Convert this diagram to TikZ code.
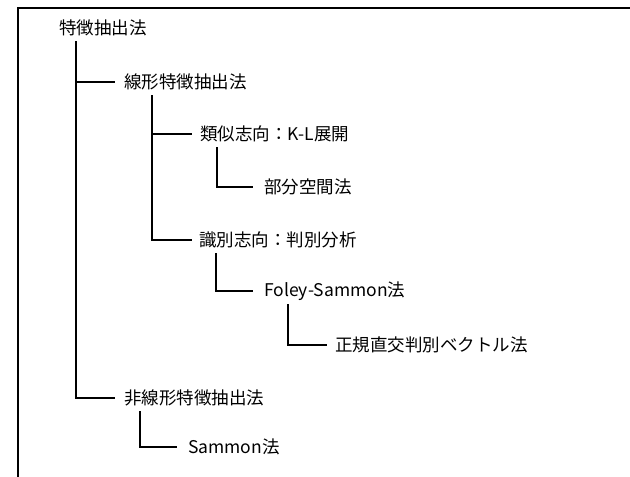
\documentclass[tikz,border=0pt]{standalone}
\usepackage{fontspec}
\setmainfont{Noto Sans CJK JP}
\usetikzlibrary{positioning}
\tikzset{tree node/.style={anchor=west,inner sep=0pt,font=\fontsize{17.5}{20}\selectfont}}

\begin{document}
\begin{tikzpicture}[x=1pt,y=-1pt]
            \useasboundingbox (0,0) rectangle (630,477);
            \draw[line width=2pt] (630,8) -| (18,477);

            \node[tree node] (root) at (59,28) {特徴抽出法};
            \node[tree node] (lin) at (124,82) {線形特徴抽出法};
            \node[tree node] (sim) at (200,134) {類似志向：K-L展開};
            \node[tree node] (sub) at (264,187) {部分空間法};
            \node[tree node] (dis) at (199,240) {識別志向：判別分析};
            \node[tree node] (fs) at (264,291) {Foley-Sammon法};
            \node[tree node] (orth) at (335,345) {正規直交判別ベクトル法};
            \node[tree node] (nonlin) at (124,398) {非線形特徴抽出法};
            \node[tree node] (sam) at (188,447) {Sammon法};

            \path[draw, line width=1.2pt]
            ([xshift=17pt,yshift=-13pt]root.west) |- ([xshift=-9pt]lin.west)
            ([xshift=17pt,yshift=-13pt]root.west) |- ([xshift=-9pt]nonlin.west)
            ([xshift=28pt,yshift=-13pt]lin.west) |- ([xshift=-8pt]sim.west)
            ([xshift=28pt,yshift=-13pt]lin.west) |- ([xshift=-7pt]dis.west)
            ([xshift=17pt,yshift=-13pt]sim.west) |- ([xshift=-11pt]sub.west)
            ([xshift=17pt,yshift=-13pt]dis.west) |- ([xshift=-11pt]fs.west)
            ([xshift=24pt,yshift=-13pt]fs.west) |- ([xshift=-8pt]orth.west)
            ([xshift=16pt,yshift=-13pt]nonlin.west) |- ([xshift=-11pt]sam.west);
        \end{tikzpicture}
\end{document}
